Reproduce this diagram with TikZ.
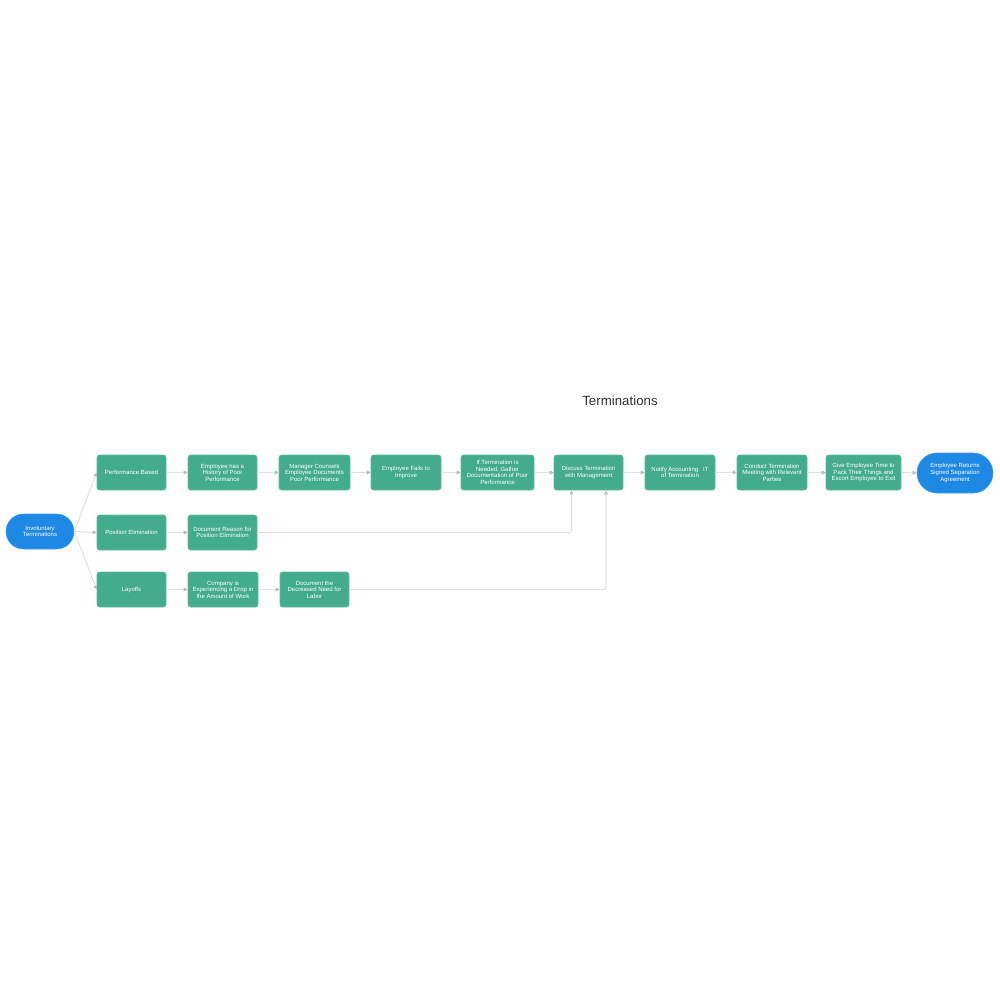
\documentclass[tikz,border=0pt]{standalone}
\usepackage{fontspec}
\setmainfont{Liberation Sans}
\usetikzlibrary{arrows.meta,shapes.misc}
\definecolor{boxgreen}{HTML}{43AC8C}
\definecolor{termblue}{HTML}{1E88E5}
\definecolor{linegray}{HTML}{E0E0E0}
\definecolor{tipgray}{HTML}{BBBBBB}
\definecolor{titlegray}{HTML}{333333}
\tikzset{
  stepbox/.style={rectangle, rounded corners=2.5pt, fill=boxgreen, draw=boxgreen!85!white, line width=0.6pt,
    text=white, align=center, font=\fontsize{6}{6.6}\selectfont, inner sep=1pt},
  termbox/.style={rounded rectangle, fill=termblue, draw=termblue!85!white, line width=0.6pt,
    text=white, align=center, font=\fontsize{6}{6.6}\selectfont, inner sep=1pt},
  conn/.style={draw=linegray, line width=1pt, -{Triangle[length=4pt,width=4pt,color=tipgray]}},
}
\begin{document}
\begin{tikzpicture}[x=1pt,y=-1pt]
\useasboundingbox (0,0) rectangle (1000,1000);
\node[font=\fontsize{13.3}{15}\selectfont, text=titlegray] (title) at (620,401) {Terminations};
\node[termbox, minimum width=70pt, minimum height=35pt] (inv) at (40,531.5) {Involuntary\\Terminations};
\node[stepbox, minimum width=69pt, minimum height=35pt] (perf) at (131.5,472.5) {Performance Based};
\node[stepbox, minimum width=69pt, minimum height=35pt] (pos) at (131.5,532.5) {Position Elimination};
\node[stepbox, minimum width=69pt, minimum height=35pt] (lay) at (131.5,589.5) {Layoffs};
\node[stepbox, minimum width=69pt, minimum height=35pt] (hist) at (222.5,472.5) {Employee has a\\History of Poor\\Performance};
\node[stepbox, minimum width=71pt, minimum height=35pt] (coun) at (314.5,472.5) {Manager Counsels\\Employee Documents\\Poor Performance};
\node[stepbox, minimum width=70pt, minimum height=35pt] (fail) at (406,472.5) {Employee Fails to\\Improve};
\node[stepbox, minimum width=73pt, minimum height=35pt] (need) at (497.5,472.5) {If Termination is\\Needed, Gather\\Documentation of Poor\\Performance};
\node[stepbox, minimum width=69pt, minimum height=35pt] (disc) at (588.5,472.5) {Discuss Termination\\with Management};
\node[stepbox, minimum width=70pt, minimum height=35pt] (noti) at (680,472.5) {Notify Accounting\ \ \ IT\\of Termination};
\node[stepbox, minimum width=70pt, minimum height=35pt] (cond) at (772,472.5) {Conduct Termination\\Meeting with Relevant\\Parties};
\node[stepbox, minimum width=75pt, minimum height=35pt] (give) at (863.5,472.5) {Give Employee Time to\\Pack Their Things and\\Escort Employee to Exit};
\node[termbox, minimum width=78pt, minimum height=40pt] (ret) at (955,473) {Employee Returns\\Signed Separation\\Agreement};
\node[stepbox, minimum width=69pt, minimum height=35pt] (docr) at (222.5,532.5) {Document Reason for\\Position Elimination};
\node[stepbox, minimum width=70pt, minimum height=35pt] (comp) at (223,589.5) {Company is\\Experiencing a Drop in\\the Amount of Work};
\node[stepbox, minimum width=69pt, minimum height=35pt] (decr) at (314.5,589.5) {Document the\\Decreased Need for\\Labor};
% connectors
\draw[conn] (inv.east) -- (perf.west);
\draw[conn] (inv.east) -- (pos.west);
\draw[conn] (inv.east) -- (lay.west);
\draw[conn] (perf) -- (hist);
\draw[conn] (hist) -- (coun);
\draw[conn] (coun) -- (fail);
\draw[conn] (fail) -- (need);
\draw[conn] (need) -- (disc);
\draw[conn] (disc) -- (noti);
\draw[conn] (noti) -- (cond);
\draw[conn] (cond) -- (give);
\draw[conn] (give) -- (ret);
\draw[conn] (pos) -- (docr);
\draw[conn] (lay) -- (comp);
\draw[conn] (comp) -- (decr);
\draw[conn, rounded corners=2pt] (docr.east) -| ([xshift=-17pt]disc.south);
\draw[conn, rounded corners=2pt] (decr.east) -| ([xshift=17.5pt]disc.south);
\end{tikzpicture}
\end{document}
